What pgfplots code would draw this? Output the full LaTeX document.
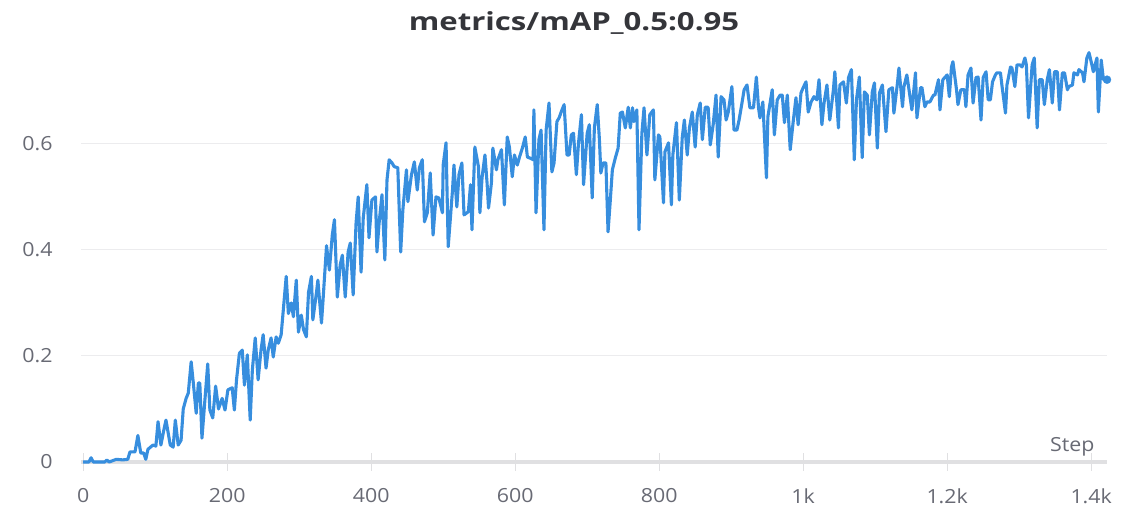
\documentclass[border=0pt]{standalone}
\usepackage{pgfplots}
\pgfplotsset{compat=1.18}
\usepackage{fontspec}
\setmainfont[FakeStretch=1.1]{Open Sans}
\newfontfamily\titlefont[FakeStretch=1.25]{Open Sans}
\definecolor{runblue}{RGB}{55,142,222}
\definecolor{ticktext}{RGB}{104,106,116}
\definecolor{titletext}{RGB}{52,53,58}
\definecolor{gridgray}{RGB}{236,236,238}
\definecolor{axisgray}{RGB}{224,224,226}

\begin{document}
\begin{tikzpicture}
\path[use as bounding box] (0,0) rectangle (1124bp,508bp);
\node[font=\titlefont\fontsize{25}{29}\selectfont\bfseries, text=titletext] at (574bp,485bp) {metrics/mAP\_0.5:0.95};
\begin{axis}[
  at={(81bp,46bp)}, anchor=south west,
  scale only axis, width=1026bp, height=412bp,
  xmin=-3, xmax=1422, ymin=0, ymax=0.777,
  axis x line*=bottom, axis y line*=left,
  x axis line style={draw=axisgray, line width=3bp},
  y axis line style={draw=none},
  xtick={0,200,400,600,800,1000,1200,1400},
  xticklabels={0,200,400,600,800,1k,1.2k,1.4k},
  ytick={0,0.2,0.4,0.6},
  yticklabels={0,0.2,0.4,0.6},
  tick align=center, major tick length=18bp,
  x tick style={draw=axisgray, line width=1.2bp},
  y tick style={draw=none},
  ymajorgrids, grid style={draw=gridgray, line width=1bp},
  tick label style={font=\fontsize{19.5}{22}\selectfont, text=ticktext},
  xticklabel style={yshift=-14bp},
  yticklabel style={xshift=-16bp},
  clip=false,
]
\addplot[runblue, line width=3.1bp, line join=round] coordinates {
(0,0) (8,0) (11,0.008) (14,0) (30,0) (33,0.004) (36,0) (46,0.005) (55,0.004) (62,0.005)
(65,0.019) (72,0.019) (76,0.05) (80,0.017) (84,0.017) (87,0.005) (90,0.024) (97,0.032) (101,0.03)
(104,0.076) (108,0.032) (112,0.06) (115,0.079) (121,0.032) (125,0.028) (128,0.079) (132,0.032)
(136,0.041) (139,0.10) (143,0.12) (146,0.13) (150,0.189) (153,0.149) (157,0.092) (160,0.149)
(162,0.149) (165,0.045) (168,0.098) (173,0.185) (176,0.098) (180,0.083) (184,0.143) (188,0.10)
(193,0.12) (197,0.098) (201,0.136) (207,0.14) (210,0.098) (213,0.155) (217,0.205) (221,0.211)
(224,0.145) (228,0.202) (232,0.079) (235,0.174) (239,0.234) (243,0.155) (247,0.211) (250,0.24)
(254,0.177) (257,0.211) (261,0.234) (264,0.198) (268,0.236) (271,0.224) (275,0.24) (278,0.287)
(282,0.35) (285,0.28) (289,0.30) (292,0.274) (296,0.343) (299,0.245) (303,0.277) (306,0.25)
(310,0.236) (313,0.32) (317,0.35) (319,0.268) (324,0.319) (326,0.343) (331,0.262) (333,0.302)
(338,0.408) (342,0.362) (346,0.428) (349,0.457) (353,0.311) (357,0.372) (360,0.39) (364,0.311)
(368,0.396) (371,0.413) (375,0.315) (379,0.45) (382,0.5) (386,0.358) (389,0.46) (394,0.523)
(397,0.423) (401,0.494) (406,0.5) (408,0.396) (411,0.45) (415,0.504) (419,0.381) (422,0.532)
(425,0.57) (429,0.564) (432,0.557) (437,0.555) (441,0.396) (444,0.475) (449,0.551) (451,0.491)
(456,0.542) (460,0.566) (464,0.513) (467,0.555) (471,0.57) (474,0.453) (478,0.47) (482,0.545)
(486,0.428) (490,0.5) (494,0.498) (499,0.47) (500,0.56) (504,0.602) (507,0.406) (513,0.513)
(515,0.56) (519,0.481) (522,0.542) (526,0.564) (529,0.466) (535,0.472) (538,0.523) (540,0.438)
(544,0.594) (549,0.557) (551,0.47) (554,0.536) (558,0.579) (561,0.526) (563,0.479) (567,0.526)
(569,0.592) (574,0.551) (576,0.57) (581,0.589) (585,0.485) (589,0.613) (592,0.594) (596,0.538)
(599,0.579) (603,0.56) (606,0.575) (610,0.592) (614,0.613) (617,0.575) (621,0.573) (625,0.57)
(626,0.664) (629,0.47) (633,0.608) (636,0.626) (640,0.438) (643,0.626) (647,0.677) (651,0.547)
(654,0.564) (658,0.642) (661,0.649) (665,0.664) (668,0.674) (672,0.579) (675,0.579) (678,0.617)
(681,0.62) (685,0.542) (688,0.602) (692,0.655) (695,0.523) (700,0.62) (703,0.636) (707,0.498)
(710,0.63) (714,0.674) (717,0.608) (719,0.545) (722,0.564) (726,0.564) (729,0.434) (732,0.491)
(735,0.551) (739,0.573) (743,0.592) (746,0.658) (749,0.66) (753,0.63) (757,0.669) (760,0.63)
(763,0.668) (765,0.642) (769,0.664) (772,0.438) (776,0.62) (779,0.668) (783,0.579) (787,0.655)
(792,0.664) (794,0.532) (799,0.617) (801,0.613) (806,0.489) (808,0.585) (813,0.602) (817,0.485)
(819,0.579) (824,0.64) (828,0.494) (832,0.611) (835,0.645) (839,0.579) (842,0.63) (846,0.66)
(850,0.594) (853,0.655) (857,0.677) (860,0.608) (864,0.669) (868,0.669) (871,0.598) (875,0.636)
(879,0.692) (882,0.575) (886,0.689) (890,0.683) (893,0.645) (896,0.66) (901,0.708) (904,0.626)
(908,0.626) (911,0.645) (915,0.677) (918,0.702) (922,0.711) (926,0.668) (931,0.668) (935,0.726)
(938,0.668) (940,0.649) (944,0.679) (949,0.536) (951,0.651) (957,0.702) (960,0.617) (964,0.683)
(968,0.692) (971,0.692) (974,0.64) (978,0.692) (982,0.589) (986,0.64) (990,0.687) (993,0.636)
(997,0.696) (1000,0.706) (1004,0.717) (1007,0.66) (1011,0.679) (1015,0.689) (1019,0.683)
(1022,0.721) (1026,0.636) (1029,0.677) (1033,0.711) (1037,0.645) (1042,0.702) (1044,0.736)
(1049,0.63) (1051,0.711) (1056,0.717) (1060,0.677) (1063,0.725) (1067,0.74) (1071,0.57)
(1074,0.683) (1078,0.726) (1082,0.574) (1085,0.698) (1089,0.692) (1092,0.617) (1096,0.698)
(1099,0.715) (1103,0.592) (1106,0.696) (1110,0.711) (1115,0.623) (1119,0.702) (1124,0.706)
(1126,0.658) (1131,0.715) (1133,0.743) (1138,0.67) (1140,0.708) (1144,0.73) (1147,0.702)
(1151,0.664) (1156,0.734) (1158,0.649) (1163,0.706) (1165,0.706) (1169,0.67) (1172,0.679)
(1176,0.679) (1181,0.692) (1183,0.692) (1188,0.721) (1190,0.664) (1194,0.721) (1200,0.73)
(1203,0.689) (1206,0.745) (1208,0.755) (1213,0.702) (1215,0.674) (1219,0.702) (1224,0.702)
(1226,0.67) (1229,0.73) (1233,0.743) (1236,0.677) (1240,0.725) (1243,0.726) (1247,0.645)
(1250,0.725) (1254,0.736) (1257,0.683) (1260,0.683) (1263,0.717) (1267,0.73) (1269,0.734)
(1274,0.734) (1276,0.711) (1281,0.658) (1283,0.711) (1288,0.745) (1290,0.743) (1294,0.708)
(1297,0.749) (1301,0.749) (1304,0.745) (1308,0.762) (1310,0.749) (1313,0.649) (1318,0.749)
(1321,0.762) (1325,0.63) (1328,0.721) (1332,0.721) (1335,0.674) (1339,0.721) (1342,0.74)
(1346,0.677) (1349,0.736) (1353,0.736) (1356,0.664) (1360,0.734) (1363,0.734) (1367,0.702)
(1369,0.708) (1374,0.711) (1376,0.734) (1381,0.73) (1383,0.74) (1388,0.734) (1390,0.717)
(1394,0.762) (1397,0.772) (1401,0.749) (1403,0.736) (1408,0.762) (1410,0.66) (1414,0.758)
(1417,0.721) (1422,0.721)
};
% last logged value
\addplot[only marks, mark=*, mark size=4bp, runblue] coordinates {(1422,0.721)};
\node[anchor=base east, font=\fontsize{19.5}{22}\selectfont, text=ticktext, inner sep=0pt]
  at (axis cs:1405,0.019) {Step};
\end{axis}
\end{tikzpicture}
\end{document}
